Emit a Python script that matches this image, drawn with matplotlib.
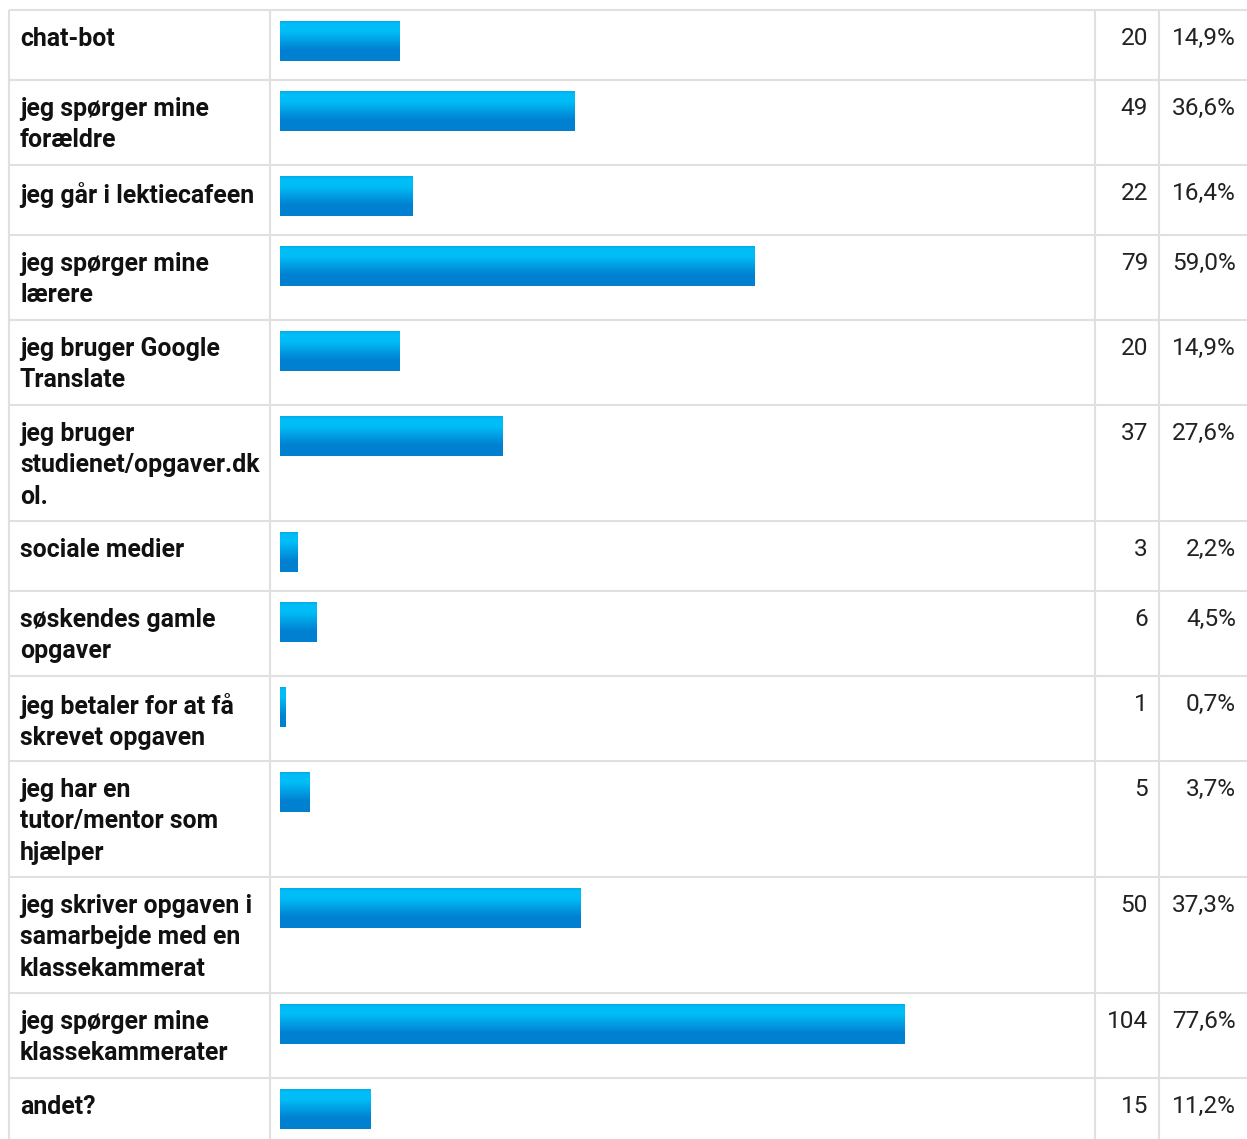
import numpy as np
import matplotlib.pyplot as plt
from matplotlib.colors import to_rgb

# survey answers (label lines as shown in the table)
labels = [
    'chat-bot',
    'jeg spørger mine\nforældre',
    'jeg går i lektiecafeen',
    'jeg spørger mine\nlærere',
    'jeg bruger Google\nTranslate',
    'jeg bruger\nstudienet/opgaver.dk\nol.',
    'sociale medier',
    'søskendes gamle\nopgaver',
    'jeg betaler for at få\nskrevet opgaven',
    'jeg har en\ntutor/mentor som\nhjælper',
    'jeg skriver opgaven i\nsamarbejde med en\nklassekammerat',
    'jeg spørger mine\nklassekammerater',
    'andet?',
]
counts = [20, 49, 22, 79, 20, 37, 3, 6, 1, 5, 50, 104, 15]
pcts = [14.9, 36.6, 16.4, 59.0, 14.9, 27.6, 2.2, 4.5, 0.7, 3.7, 37.3, 77.6, 11.2]

W, H = 1247, 1139
fig = plt.figure(figsize=(W / 100, H / 100), dpi=100)
ax = fig.add_axes([0, 0, 1, 1])
ax.set_xlim(0, W)
ax.set_ylim(H, 0)
ax.axis('off')

grid_col = '#e0e0e0'
lw = 1.5
x_left, x_bar, x_cnt, x_pct = 9, 270, 1095, 1159
bar_x0 = 280
full_w = 805  # width of a 100% bar
bar_h = 40
line_h = 31
fs = 17.6

# vertical gradient for the bars
stops = [(0.0, '#00aeea'), (0.06, '#00bef8'), (0.25, '#00bdf6'),
         (0.72, '#0081d1'), (1.0, '#0080cf')]
tt = np.linspace(0, 1, 40)
grad = np.zeros((40, 1, 3))
for c in range(3):
    grad[:, 0, c] = np.interp(tt, [s[0] for s in stops],
                              [to_rgb(s[1])[c] for s in stops])

font = ['Roboto', 'DejaVu Sans']
y = 10
ax.plot([x_left, W], [y, y], color=grid_col, lw=lw, solid_capstyle='butt')
for lab, n, p in zip(labels, counts, pcts):
    nlines = lab.count('\n') + 1
    h = max(70, 23 + line_h * nlines)
    ax.text(20, y + 17, lab, fontsize=17.9, fontweight='bold', family=font,
            va='top', ha='left', color='#111111', linespacing=1.39)
    ax.text(1148, y + 17, str(n), fontsize=fs, family=font,
            va='top', ha='right', color='#222222')
    ax.text(1236, y + 17, f'{p:.1f}%'.replace('.', ','), fontsize=fs,
            family=font, va='top', ha='right', color='#222222')
    bw = p / 100 * full_w
    ax.imshow(grad, extent=(bar_x0, bar_x0 + bw, y + 11 + bar_h, y + 11),
              aspect='auto', interpolation='bilinear', zorder=2)
    y += h
    ax.plot([x_left, W], [y, y], color=grid_col, lw=lw, solid_capstyle='butt')

for x in [x_left, x_bar, x_cnt, x_pct]:
    ax.plot([x, x], [10, H], color=grid_col, lw=lw, solid_capstyle='butt')

ax.set_xlim(0, W)
ax.set_ylim(H, 0)
fig.savefig('out.png', dpi=100)
